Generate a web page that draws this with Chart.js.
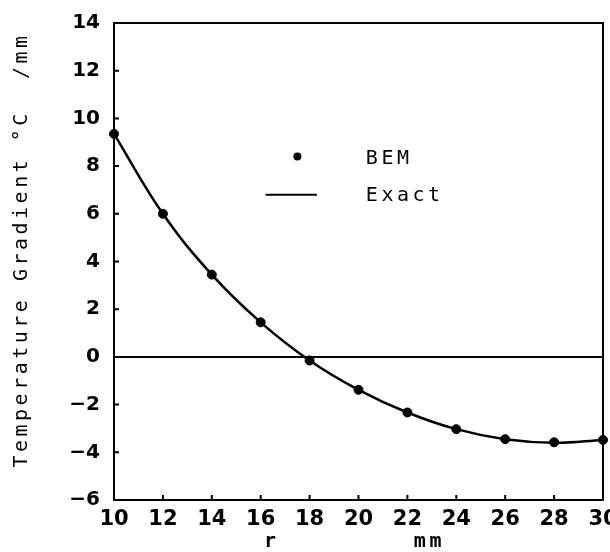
<!DOCTYPE html>
<html>
<head>
<meta charset="utf-8">
<script src="https://cdn.jsdelivr.net/npm/chart.js@4/dist/chart.umd.min.js"></script>
<style>
  html, body { margin: 0; padding: 0; background: #fff; }
  #wrap { width: 610px; height: 552px; }
</style>
</head>
<body>
<div id="wrap"><canvas id="gradChart" width="610" height="552"></canvas></div>
<script>
// values
const rValues = [10, 12, 14, 16, 18, 20, 22, 24, 26, 28, 30];
const bemValues = [9.35, 6.0, 3.45, 1.45, -0.15, -1.38, -2.33, -3.03, -3.45, -3.58, -3.48];
const exactValues = [9.35, 6.0, 3.45, 1.45, -0.15, -1.38, -2.33, -3.03, -3.45, -3.6, -3.48];
const zeroLine = [10, 30];
const xTicks = [10, 12, 14, 16, 18, 20, 22, 24, 26, 28, 30];
const yTicks = [-6, -4, -2, 0, 2, 4, 6, 8, 10, 12, 14];

const MONO = "'DejaVu Sans Mono', monospace";
const SANS = "'DejaVu Sans', sans-serif";

const toPoints = (xs, ys) => xs.map((x, i) => ({ x: x, y: ys[i] }));

// frame, inward ticks, axis titles and the legend
const framePlugin = {
  id: "frame",
  afterDraw: (chart) => {
    const ctx = chart.ctx;
    const a = chart.chartArea;
    const xs = chart.scales.x;
    const ys = chart.scales.y;
    ctx.save();
    ctx.strokeStyle = "#000";
    ctx.lineWidth = 2;
    ctx.strokeRect(a.left, a.top, a.right - a.left, a.bottom - a.top);

    ctx.beginPath();
    yTicks.forEach((v) => {
      const py = ys.getPixelForValue(v);
      ctx.moveTo(a.left, py);
      ctx.lineTo(a.left + 5, py);
    });
    xTicks.forEach((v) => {
      const px = xs.getPixelForValue(v);
      ctx.moveTo(px, a.bottom);
      ctx.lineTo(px, a.bottom - 5);
    });
    ctx.stroke();

    ctx.fillStyle = "#000";
    ctx.font = "20px " + MONO;
    ctx.letterSpacing = "3.5px";
    ctx.textBaseline = "middle";

    // y title
    ctx.save();
    ctx.translate(22, 250);
    ctx.rotate(-Math.PI / 2);
    ctx.textAlign = "center";
    ctx.fillText("Temperature Gradient \u00B0C  /mm", 0, 0);
    ctx.restore();

    // x title
    ctx.font = "bold 20px " + MONO;
    ctx.textAlign = "center";
    ctx.fillText("r", xs.getPixelForValue(16.45), 542);
    ctx.fillText("mm", xs.getPixelForValue(22.9), 542);

    // legend
    ctx.font = "20px " + MONO;
    ctx.textAlign = "left";
    const lx = xs.getPixelForValue(20.3);
    ctx.fillText("BEM", lx, ys.getPixelForValue(8.3));
    ctx.fillText("Exact", lx, ys.getPixelForValue(6.75));
    ctx.beginPath();
    ctx.arc(xs.getPixelForValue(17.5), ys.getPixelForValue(8.4), 4, 0, Math.PI * 2);
    ctx.fill();
    ctx.lineWidth = 2;
    ctx.beginPath();
    ctx.moveTo(xs.getPixelForValue(16.2), ys.getPixelForValue(6.8));
    ctx.lineTo(xs.getPixelForValue(18.3), ys.getPixelForValue(6.8));
    ctx.stroke();
    ctx.restore();
  },
};

new Chart(document.getElementById("gradChart").getContext("2d"), {
  type: "scatter",
  data: {
    datasets: [
      {
        label: "Zero",
        data: toPoints(zeroLine, [0, 0]),
        showLine: true,
        borderColor: "#000",
        borderWidth: 2,
        pointRadius: 0,
      },
      {
        label: "Exact",
        data: toPoints(rValues, exactValues),
        showLine: true,
        borderColor: "#000",
        borderWidth: 2.5,
        tension: 0.4,
        pointRadius: 0,
        clip: false,
      },
      {
        label: "BEM",
        data: toPoints(rValues, bemValues),
        showLine: false,
        backgroundColor: "#000",
        borderColor: "#000",
        pointRadius: 4.5,
        clip: false,
      },
    ],
  },
  options: {
    responsive: false,
    animation: false,
    layout: { padding: { top: 23, right: 7, left: 0, bottom: 0 } },
    plugins: {
      legend: { display: false },
      tooltip: { enabled: false },
    },
    scales: {
      x: {
        type: "linear",
        min: 10,
        max: 30,
        afterBuildTicks: (s) => { s.ticks = xTicks.map((v) => ({ value: v })); },
        afterFit: (s) => {
          s.height = 52;
          s.paddingLeft = 0;
          s.paddingRight = 0;
        },
        grid: { display: false, drawTicks: false },
        border: { display: false },
        ticks: {
          color: "#000",
          padding: 7,
          maxRotation: 0,
          font: { family: SANS, size: 21, weight: "bold" },
        },
      },
      y: {
        type: "linear",
        min: -6,
        max: 14,
        afterBuildTicks: (s) => { s.ticks = yTicks.map((v) => ({ value: v })); },
        afterFit: (s) => {
          s.width = 114;
          s.paddingTop = 0;
          s.paddingBottom = 0;
        },
        grid: { display: false, drawTicks: false },
        border: { display: false },
        ticks: {
          color: "#000",
          padding: 14,
          font: { family: SANS, size: 20, weight: "bold" },
          callback: (v) => (v < 0 ? "\u2212" + Math.abs(v) : String(v)),
        },
      },
    },
  },
  plugins: [framePlugin],
});
</script>
</body>
</html>
